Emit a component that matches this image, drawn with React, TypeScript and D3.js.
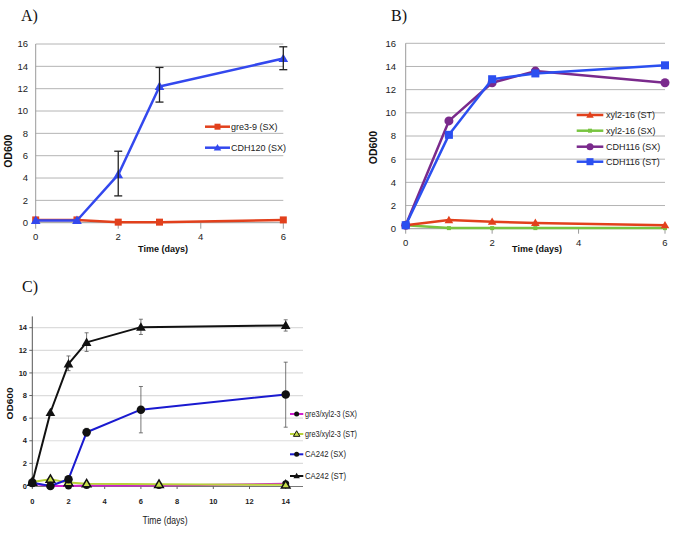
import React from "react";
import * as d3 from "d3";

// ---------- Panel A data ----------
const daysAB = [0, 1, 2, 3, 6];
const aGre39SX = [0.25, 0.25, 0.05, 0.05, 0.25];
const aCDH120SX = [0.2, 0.2, 4.3, 12.2, 14.7];
const aCDH120Lo = [null, null, 2.4, 10.8, 13.7];
const aCDH120Hi = [null, null, 6.4, 13.9, 15.75];

// ---------- Panel B data ----------
const bXyl216ST = [0.3, 0.75, 0.6, 0.5, 0.3];
const bXyl216SX = [0.3, 0.05, 0.05, 0.05, 0.05];
const bCDH116SX = [0.3, 9.3, 12.6, 13.6, 12.6];
const bCDH116ST = [0.3, 8.1, 12.9, 13.4, 14.1];

// ---------- Panel C data ----------
const daysCA = [0, 1, 2, 3, 6, 14];
const daysGre = [0, 1, 2, 3, 7, 14];
const cCA242ST = [0.3, 6.5, 10.8, 12.7, 14.05, 14.2];
const cCA242STLo = [null, null, 10.2, 11.9, 13.4, 13.7];
const cCA242STHi = [null, null, 11.5, 13.55, 14.75, 14.7];
const cCA242SX = [0.3, 0.0, 0.6, 4.75, 6.75, 8.1];
const cCA242SXLo = [null, null, null, 4.4, 4.7, 5.2];
const cCA242SXHi = [null, null, null, 5.1, 8.8, 10.95];
const cGreSX = [0.2, 0.0, 0.0, 0.05, 0.05, 0.2];
const cGreST = [0.35, 0.6, 0.3, 0.2, 0.15, 0.1];

const ticksAB_y = [0, 2, 4, 6, 8, 10, 12, 14, 16];
const ticksAB_x = [0, 2, 4, 6];
const ticksC_y = [0, 2, 4, 6, 8, 10, 12, 14];
const ticksC_x = [0, 2, 4, 6, 8, 10, 12, 14];

const SANS = "'Liberation Sans', Arial, sans-serif";
const SERIF = "'Liberation Serif', 'Times New Roman', serif";

type Pt = [number, number];

function Marker({ shape, x, y, size, fill, stroke, sw }: any) {
  if (shape === "square") {
    return <rect x={x - size / 2} y={y - size / 2} width={size} height={size} fill={fill} stroke={stroke || "none"} strokeWidth={sw || 0} />;
  }
  if (shape === "circle") {
    return <circle cx={x} cy={y} r={size / 2} fill={fill} stroke={stroke || "none"} strokeWidth={sw || 0} />;
  }
  const p = d3.symbol().type(d3.symbolTriangle).size((size * size) * 0.5)();
  return <path d={p || ""} transform={`translate(${x},${y + size * 0.08})`} fill={fill} stroke={stroke || "none"} strokeWidth={sw || 0} />;
}

function Series({ xs, ys, xS, yS, color, lw, shape, size, mfill, mstroke, msw }: any) {
  const pts: Pt[] = xs.map((d: number, i: number) => [xS(d), yS(ys[i])]);
  const line = d3.line()(pts) || "";
  return (
    <g>
      <path d={line} fill="none" stroke={color} strokeWidth={lw} strokeLinejoin="round" />
      {pts.map((p, i) => (
        <Marker key={i} shape={shape} x={p[0]} y={p[1]} size={size} fill={mfill || color} stroke={mstroke} sw={msw} />
      ))}
    </g>
  );
}

function ErrBars({ xs, lo, hi, xS, yS, color, lw, cap }: any) {
  return (
    <g stroke={color} strokeWidth={lw}>
      {xs.map((d: number, i: number) => {
        if (lo[i] == null) return null;
        const x = xS(d);
        const y1 = yS(lo[i]);
        const y2 = yS(hi[i]);
        return (
          <g key={i}>
            <line x1={x} x2={x} y1={y1} y2={y2} />
            <line x1={x - cap} x2={x + cap} y1={y1} y2={y1} />
            <line x1={x - cap} x2={x + cap} y1={y2} y2={y2} />
          </g>
        );
      })}
    </g>
  );
}

function LegendItem({ x1, x2, y, label, color, lw, shape, size, mfill, mstroke, msw, fs, family, tx, textLength }: any) {
  return (
    <g>
      <line x1={x1} x2={x2} y1={y} y2={y} stroke={color} strokeWidth={lw} />
      <Marker shape={shape} x={(x1 + x2) / 2} y={y} size={size} fill={mfill || color} stroke={mstroke} sw={msw} />
      <text x={tx} y={y} dy="0.35em" fontSize={fs} fontFamily={family} fill="#222" textLength={textLength} lengthAdjust={textLength ? "spacingAndGlyphs" : undefined}>{label}</text>
    </g>
  );
}

function PanelA() {
  const xS = d3.scaleLinear().domain([0, 6]).range([35.7, 283.3]);
  const yS = d3.scaleLinear().domain([0, 16]).range([222.7, 44]);
  return (
    <g>
      <text x={21} y={21} fontFamily={SERIF} fontSize={16} fill="#111">A)</text>
      {ticksAB_y.map((t) => (
        <g key={t}>
          {t > 0 && <line x1={xS(0)} x2={xS(6)} y1={yS(t)} y2={yS(t)} stroke="#b4b4b4" strokeWidth={1} />}
          <text x={28} y={yS(t)} dy="0.35em" textAnchor="end" fontFamily={SANS} fontSize={9.5} fill="#222">{t}</text>
        </g>
      ))}
      <line x1={xS(0)} x2={xS(0)} y1={yS(16)} y2={yS(0)} stroke="#9a9a9a" strokeWidth={1} />
      <line x1={xS(0)} x2={xS(6)} y1={yS(0)} y2={yS(0)} stroke="#9a9a9a" strokeWidth={1} />
      {ticksAB_x.map((t) => (
        <g key={t}>
          <line x1={xS(t)} x2={xS(t)} y1={yS(0)} y2={yS(0) + 6} stroke="#9a9a9a" />
          <text x={xS(t)} y={240} textAnchor="middle" fontFamily={SANS} fontSize={9.5} fill="#222">{t}</text>
        </g>
      ))}
      <text transform={`translate(12,${yS(6.4)}) rotate(-90)`} textAnchor="middle" fontFamily={SANS} fontWeight="bold" fontSize={10.5} fill="#111">OD600</text>
      <text x={163} y={252} textAnchor="middle" fontFamily={SANS} fontWeight="bold" fontSize={9} fill="#111">Time (days)</text>
      <Series xs={daysAB} ys={aGre39SX} xS={xS} yS={yS} color="#e2401c" lw={2.5} shape="square" size={7} />
      <Series xs={daysAB} ys={aCDH120SX} xS={xS} yS={yS} color="#3348ee" lw={2.5} shape="triangle" size={9} />
      <ErrBars xs={daysAB} lo={aCDH120Lo} hi={aCDH120Hi} xS={xS} yS={yS} color="#222" lw={1.3} cap={4} />
      <LegendItem x1={205} x2={230} y={126.7} label="gre3-9 (SX)" color="#e2401c" lw={2.5} shape="square" size={6} fs={9} family={SANS} tx={231} />
      <LegendItem x1={205} x2={230} y={147.7} label="CDH120 (SX)" color="#3348ee" lw={2.5} shape="triangle" size={7} fs={9} family={SANS} tx={231} />
    </g>
  );
}

function PanelB() {
  const xS = d3.scaleLinear().domain([0, 6]).range([405.7, 665]);
  const yS = d3.scaleLinear().domain([0, 16]).range([228.7, 43.3]);
  return (
    <g>
      <text x={391} y={21} fontFamily={SERIF} fontSize={16} fill="#111">B)</text>
      {ticksAB_y.map((t) => (
        <g key={t}>
          {t > 0 && <line x1={xS(0)} x2={xS(6)} y1={yS(t)} y2={yS(t)} stroke="#b4b4b4" strokeWidth={1} />}
          <text x={396} y={yS(t)} dy="0.35em" textAnchor="end" fontFamily={SANS} fontSize={9.5} fill="#222">{t}</text>
        </g>
      ))}
      <line x1={xS(0)} x2={xS(0)} y1={yS(16)} y2={yS(0)} stroke="#9a9a9a" strokeWidth={1} />
      <line x1={xS(0)} x2={xS(6)} y1={yS(0)} y2={yS(0)} stroke="#9a9a9a" strokeWidth={1} />
      {ticksAB_x.map((t) => (
        <g key={t}>
          <line x1={xS(t)} x2={xS(t)} y1={yS(0)} y2={yS(0) + 5} stroke="#9a9a9a" />
          <text x={xS(t)} y={246} textAnchor="middle" fontFamily={SANS} fontSize={9.5} fill="#222">{t}</text>
        </g>
      ))}
      <text transform={`translate(377,${yS(7)}) rotate(-90)`} textAnchor="middle" fontFamily={SANS} fontWeight="bold" fontSize={10.5} fill="#111">OD600</text>
      <text x={537} y={252} textAnchor="middle" fontFamily={SANS} fontWeight="bold" fontSize={9} fill="#111">Time (days)</text>
      <Series xs={daysAB} ys={bXyl216SX} xS={xS} yS={yS} color="#78c440" lw={2.5} shape="square" size={4} />
      <Series xs={daysAB} ys={bXyl216ST} xS={xS} yS={yS} color="#e2401c" lw={2.5} shape="triangle" size={8} />
      <Series xs={daysAB} ys={bCDH116SX} xS={xS} yS={yS} color="#7a2a8c" lw={2.5} shape="circle" size={9} />
      <Series xs={daysAB} ys={bCDH116ST} xS={xS} yS={yS} color="#2b4ff0" lw={2.5} shape="square" size={8} />
      <LegendItem x1={576.7} x2={603.3} y={115} label="xyl2-16 (ST)" color="#e2401c" lw={2.5} shape="triangle" size={7} fs={9} family={SANS} tx={606} />
      <LegendItem x1={576.7} x2={603.3} y={130.7} label="xyl2-16 (SX)" color="#78c440" lw={2.5} shape="square" size={4} fs={9} family={SANS} tx={606} />
      <LegendItem x1={576.7} x2={603.3} y={146.7} label="CDH116 (SX)" color="#7a2a8c" lw={2.5} shape="circle" size={7} fs={9} family={SANS} tx={606} />
      <LegendItem x1={576.7} x2={603.3} y={161.7} label="CDH116 (ST)" color="#2b4ff0" lw={2.5} shape="square" size={7} fs={9} family={SANS} tx={606} />
    </g>
  );
}

function PanelC() {
  const xS = d3.scaleLinear().domain([0, 14]).range([32.3, 285.7]);
  const yS = d3.scaleLinear().domain([0, 14]).range([486, 327.7]);
  const xEnd = 303;
  return (
    <g>
      <text x={22} y={292} fontFamily={SERIF} fontSize={16} fill="#111">C)</text>
      {ticksC_y.map((t) => (
        <g key={t}>
          {t > 0 && <line x1={xS(0)} x2={xEnd} y1={yS(t)} y2={yS(t)} stroke="#dcdcdc" strokeWidth={1.2} />}
          <line x1={xS(0) - 3} x2={xS(0)} y1={yS(t)} y2={yS(t)} stroke="#666" />
          <text x={27} y={yS(t)} dy="0.35em" textAnchor="end" fontFamily={SANS} fontWeight="bold" fontSize={7.5} fill="#222">{t}</text>
        </g>
      ))}
      <line x1={xS(0)} x2={xS(0)} y1={yS(15)} y2={yS(0)} stroke="#555" strokeWidth={1} />
      <line x1={xS(0)} x2={xEnd} y1={yS(0) + 0.5} y2={yS(0) + 0.5} stroke="#777" strokeWidth={1} />
      {ticksC_x.map((t) => (
        <g key={t}>
          <line x1={xS(t)} x2={xS(t)} y1={yS(0)} y2={yS(0) + 3} stroke="#666" />
          <text x={xS(t)} y={504} textAnchor="middle" fontFamily={SANS} fontWeight="bold" fontSize={7.5} fill="#222">{t}</text>
        </g>
      ))}
      <text transform={`translate(13,${yS(7.3)}) rotate(-90)`} textAnchor="middle" fontFamily={SANS} fontWeight="bold" fontSize={9} fill="#111" textLength={32} lengthAdjust="spacingAndGlyphs">OD600</text>
      <text x={165} y={524} textAnchor="middle" fontFamily={SANS} fontSize={11} fill="#222" textLength={45} lengthAdjust="spacingAndGlyphs">Time (days)</text>
      <ErrBars xs={daysCA} lo={cCA242STLo} hi={cCA242STHi} xS={xS} yS={yS} color="#555" lw={0.8} cap={2} />
      <ErrBars xs={daysCA} lo={cCA242SXLo} hi={cCA242SXHi} xS={xS} yS={yS} color="#555" lw={0.8} cap={2} />
      <Series xs={daysGre} ys={cGreSX} xS={xS} yS={yS} color="#d01ed0" lw={2} shape="circle" size={7} mfill="#111" />
      <Series xs={daysGre} ys={cGreST} xS={xS} yS={yS} color="#b8d23a" lw={2} shape="triangle" size={8} mfill="#c8de4a" mstroke="#111" msw={1.5} />
      <Series xs={daysCA} ys={cCA242SX} xS={xS} yS={yS} color="#1a1ad0" lw={2} shape="circle" size={8.5} mfill="#111" />
      <Series xs={daysCA} ys={cCA242ST} xS={xS} yS={yS} color="#111" lw={2} shape="triangle" size={9} mfill="#111" />
      <LegendItem x1={290} x2={303.3} y={414} label="gre3/xyl2-3  (SX)" color="#d01ed0" lw={2} shape="circle" size={5} mfill="#111" fs={9} family={SANS} tx={305} textLength={52} />
      <LegendItem x1={290} x2={303.3} y={434} label="gre3/xyl2-3  (ST)" color="#b8d23a" lw={2} shape="triangle" size={6} mfill="#c8de4a" mstroke="#111" msw={1} fs={9} family={SANS} tx={305} textLength={52} />
      <LegendItem x1={290} x2={303.3} y={454.3} label="CA242  (SX)" color="#1a1ad0" lw={2} shape="circle" size={5} mfill="#111" fs={9} family={SANS} tx={305} textLength={41} />
      <LegendItem x1={290} x2={303.3} y={476} label="CA242  (ST)" color="#111" lw={2} shape="triangle" size={6} mfill="#111" fs={9} family={SANS} tx={305} textLength={41} />
    </g>
  );
}

export default function App() {
  return (
    <svg width={680} height={543} viewBox="0 0 680 543" style={{ position: "absolute", left: 0, top: 0, background: "#fff" }}>
      <rect width={680} height={543} fill="#fff" />
      <PanelA />
      <PanelB />
      <PanelC />
    </svg>
  );
}
